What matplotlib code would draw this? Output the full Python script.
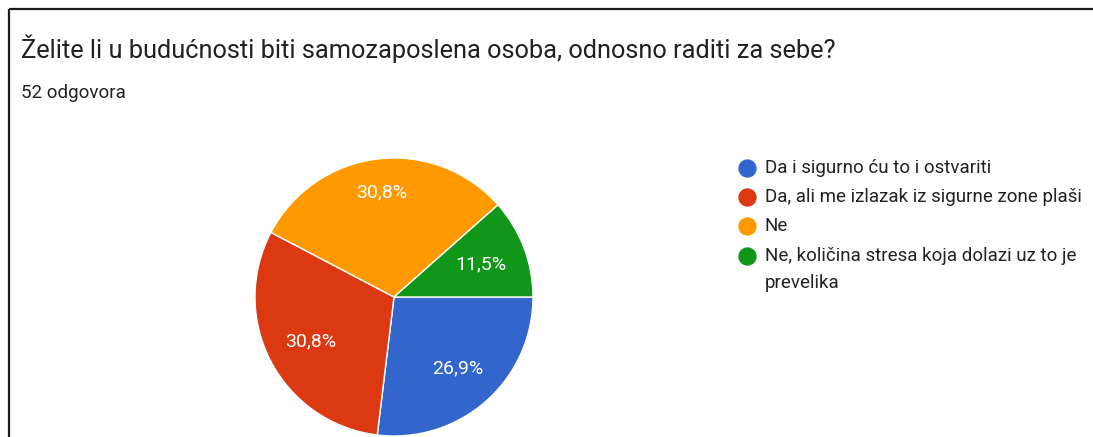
import numpy as np
import matplotlib
matplotlib.use('Agg')
import matplotlib.pyplot as plt

plt.rcParams['font.family'] = ['Roboto', 'DejaVu Sans']

title = 'Želite li u budućnosti biti samozaposlena osoba, odnosno raditi za sebe?'
subtitle = '52 odgovora'
labels = ['Da i sigurno ću to i ostvariti',
          'Da, ali me izlazak iz sigurne zone plaši',
          'Ne',
          'Ne, količina stresa koja dolazi uz to je\nprevelika']
counts = [14, 16, 16, 6]
colors = ['#3366CC', '#DC3912', '#FF9900', '#109618']

W, H = 1093, 437
fig = plt.figure(figsize=(W / 100, H / 100), dpi=100)
fig.patch.set_facecolor('white')

# overlay in pixel coordinates for frame, titles and legend
ov = fig.add_axes([0, 0, 1, 1])
ov.set_xlim(0, W)
ov.set_ylim(H, 0)
ov.axis('off')
ov.plot([8.5, W], [8.5, 8.5], color='#1a1a1a', lw=1.6, solid_capstyle='butt')
ov.plot([8.5, 8.5], [8.5, H], color='#1a1a1a', lw=1.6, solid_capstyle='butt')
ov.text(21, 58, title, fontsize=18.3, color='#202124', va='baseline', ha='left')
ov.text(21, 98, subtitle, fontsize=13.5, color='#202124', va='baseline', ha='left')

leg_y = [168, 197, 226, 256]
for lab, col, y in zip(labels, colors, leg_y):
    ov.plot([747], [y], marker='o', ms=12.2, color=col, mec=col)
    for i, line in enumerate(lab.split('\n')):
        ov.text(765, y + 5 + i * 27, line, fontsize=13.5, color='#222222',
                va='baseline', ha='left')

# pie
cx, cy, r = 394, 297, 139
ax = fig.add_axes([(cx - r) / W, (H - cy - r) / H, 2 * r / W, 2 * r / H])
wedges, _ = ax.pie(counts, colors=colors, startangle=0, counterclock=False,
                   wedgeprops=dict(edgecolor='white', linewidth=1))
ax.set_xlim(-1, 1)
ax.set_ylim(-1, 1)

total = sum(counts)
dist = [0.69, 0.68, 0.76, 0.67]
for w, c, d in zip(wedges, counts, dist):
    ang = np.deg2rad((w.theta1 + w.theta2) / 2)
    pct = f'{100 * c / total:.1f}%'.replace('.', ',')
    ax.text(d * np.cos(ang), d * np.sin(ang), pct, color='white', fontsize=14,
            ha='center', va='center')

fig.savefig('out.png', dpi=100)
